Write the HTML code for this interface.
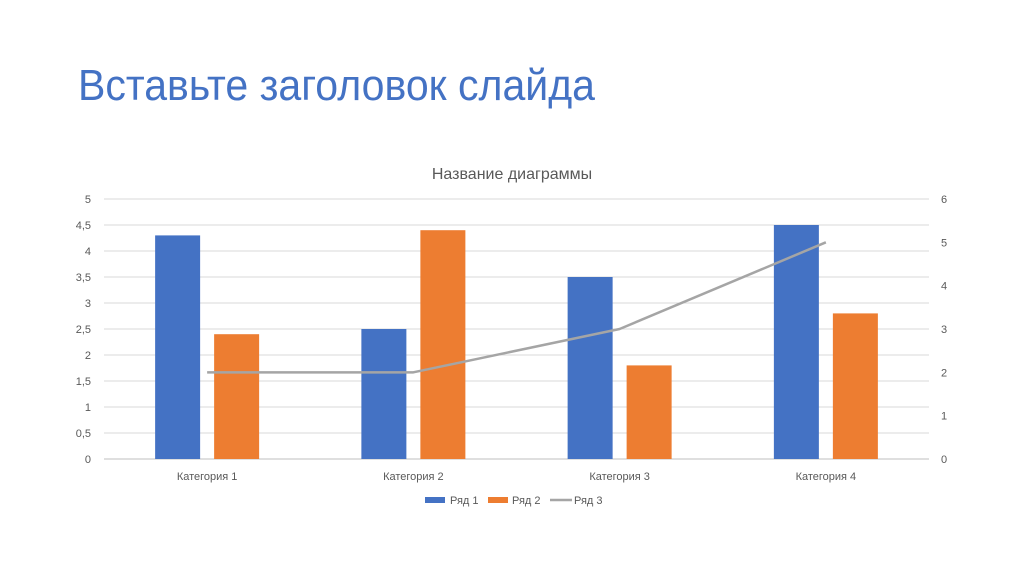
<!DOCTYPE html>
<html><head><meta charset="utf-8"><style>
body{margin:0;background:#fff;}
svg{display:block;font-family:"Liberation Sans","DejaVu Sans",sans-serif;}
</style></head><body>
<svg id="c" width="1024" height="574" viewBox="0 0 1024 574">
<text x="78" y="100" font-size="44" fill="#4472c4" textLength="517" lengthAdjust="spacingAndGlyphs">Вставьте заголовок слайда</text>
<text x="512" y="179" font-size="16" fill="#595959" text-anchor="middle">Название диаграммы</text>
<g id="grid"></g><g id="bars"></g><g id="line"></g><g id="axes"></g>
<g font-size="11" fill="#595959">
<rect x="425" y="497" width="20" height="6" fill="#4472c4"/>
<text x="450" y="504">Ряд 1</text>
<rect x="488" y="497" width="20" height="6" fill="#ed7d31"/>
<text x="512" y="504">Ряд 2</text>
<line x1="550" y1="500" x2="572" y2="500" stroke="#a5a5a5" stroke-width="2.5"/>
<text x="574" y="504">Ряд 3</text>
</g>
</svg>
<script>
const categories=["Категория 1","Категория 2","Категория 3","Категория 4"];
const series1=[4.3,2.5,3.5,4.5];
const series2=[2.4,4.4,1.8,2.8];
const series3=[2,2,3,5];
const leftTicks=["0","0,5","1","1,5","2","2,5","3","3,5","4","4,5","5"];
const rightTicks=["0","1","2","3","4","5","6"];
const NS="http://www.w3.org/2000/svg";
const X0=104,X1=929,Y0=459,Y1=199,LMAX=5,RMAX=6;
const band=(X1-X0)/categories.length;
const xc=i=>X0+band*(i+0.5);
const yl=v=>Y0-(v/LMAX)*(Y0-Y1);
const yr=v=>Y0-(v/RMAX)*(Y0-Y1);
function mk(t,a,p){const e=document.createElementNS(NS,t);for(const k in a)e.setAttribute(k,a[k]);p.appendChild(e);return e;}
const grid=document.getElementById('grid'),axes=document.getElementById('axes'),bars=document.getElementById('bars'),line=document.getElementById('line');
leftTicks.forEach((t,i)=>{const v=i*0.5;
const g=mk('line',{x1:X0,x2:X1,y1:yl(v),y2:yl(v),stroke:i==0?'#bfbfbf':'#d9d9d9','stroke-width':1},grid);


const tx=mk('text',{x:91,y:yl(v)+4,'font-size':11,fill:'#595959','text-anchor':'end'},axes);tx.textContent=t;

});
rightTicks.forEach((t,i)=>{const tx=mk('text',{x:941,y:yr(+t)+4,'font-size':11,fill:'#595959'},axes);tx.textContent=t;

});
categories.forEach((c,i)=>{
const tx=mk('text',{x:xc(i),y:480,'font-size':11,fill:'#595959','text-anchor':'middle'},axes);tx.textContent=c;


const b1=mk('rect',{x:xc(i)-52,y:yl(series1[i]),width:45,height:Y0-yl(series1[i]),fill:'#4472c4'},bars);


const b2=mk('rect',{x:xc(i)+7,y:yl(series2[i]),width:45,height:Y0-yl(series2[i]),fill:'#ed7d31'},bars);

});
const pl=mk('polyline',{points:series3.map((v,i)=>xc(i)+','+yr(v)).join(' '),fill:'none',stroke:'#a5a5a5','stroke-width':2.5,'stroke-linejoin':'round'},line);


</script>
</body></html>
